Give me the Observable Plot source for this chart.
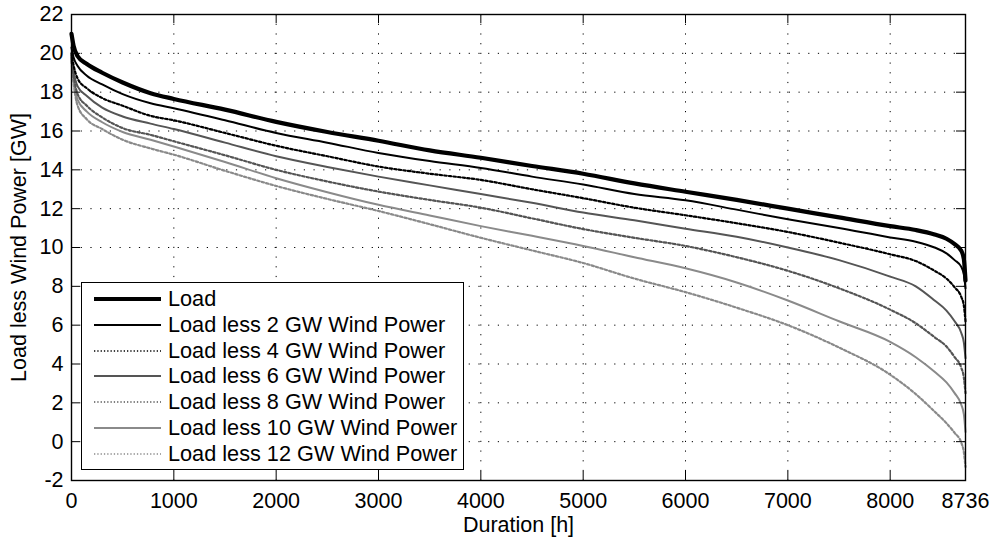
<!DOCTYPE html>
<html><head><meta charset="utf-8">
<script src="https://cdn.jsdelivr.net/npm/d3@7"></script>
<script src="https://cdn.jsdelivr.net/npm/@observablehq/plot@0.6"></script>
<style>
html,body{margin:0;padding:0;background:#fff;}
#wrap{position:relative;width:999px;height:541px;font-family:"Liberation Sans",Arial,Helvetica,sans-serif;}
#legend{position:absolute;left:81px;top:282px;width:383px;height:188px;border:1px solid #000;background:#fff;box-sizing:border-box;font-size:21.7px;color:#000;}
#legend .row{position:absolute;left:0;height:26px;display:flex;align-items:center;white-space:nowrap;}
#legend svg{display:block;}
</style></head><body><div id="wrap"></div>
<script>
// ---- data ----
const hours = [0,20,60,150,300,500,773,1000,1500,2000,2500,3000,3500,4000,4500,5000,5500,6000,6500,7000,7500,8000,8250,8434,8550,8630,8695,8720,8736];
const load   = [21.0,20.4,19.85,19.45,19.0,18.5,17.95,17.65,17.1,16.47,15.95,15.5,15.0,14.62,14.2,13.8,13.3,12.87,12.45,12.0,11.55,11.1,10.9,10.67,10.45,10.17,9.83,9.4,8.3];
const less2  = [20.3,19.8,19.35,18.85,18.4,17.9,17.43,17.17,16.55,15.9,15.4,14.87,14.45,14.1,13.65,13.24,12.75,12.43,11.95,11.45,11.0,10.52,10.3,10.0,9.7,9.35,9.0,8.6,7.9];
const less4  = [20.0,19.4,18.7,18.2,17.7,17.3,16.78,16.55,15.9,15.24,14.7,14.17,13.8,13.48,13.0,12.54,12.05,11.66,11.25,10.8,10.25,9.65,9.3,8.8,8.4,7.95,7.45,7.0,6.2];
const less6  = [19.9,19.1,18.3,17.8,17.2,16.75,16.38,16.1,15.4,14.7,14.15,13.65,13.2,12.75,12.3,11.8,11.4,10.97,10.55,10.0,9.35,8.5,8.0,7.27,6.75,6.2,5.6,5.1,4.3];
const less8  = [19.8,18.9,17.9,17.3,16.7,16.15,15.8,15.47,14.75,14.0,13.4,12.88,12.45,12.05,11.5,10.95,10.5,10.08,9.5,8.8,7.9,6.8,6.1,5.38,4.9,4.35,3.8,3.3,2.5];
const less10 = [19.7,18.7,17.6,17.0,16.45,15.95,15.55,15.2,14.4,13.57,12.85,12.2,11.65,11.1,10.6,10.08,9.5,8.93,8.2,7.27,6.2,5.14,4.35,3.6,3.05,2.5,1.9,1.4,0.5];
const less12 = [19.6,18.5,17.3,16.6,16.1,15.55,15.1,14.78,13.95,13.17,12.5,11.88,11.2,10.5,9.85,9.2,8.4,7.7,6.9,6.0,4.85,3.45,2.45,1.55,0.95,0.45,-0.05,-0.55,-1.3];
const seriesNames = ["Load","Load less 2 GW Wind Power","Load less 4 GW Wind Power","Load less 6 GW Wind Power","Load less 8 GW Wind Power","Load less 10 GW Wind Power","Load less 12 GW Wind Power"];
const seriesValues = [load, less2, less4, less6, less8, less10, less12];
const xTicks = [0,1000,2000,3000,4000,5000,6000,7000,8000,8736];
const yTicks = [-2,0,2,4,6,8,10,12,14,16,18,20,22];
const xLabel = "Duration [h]";
const yLabel = "Load less Wind Power [GW]";

// ---- styles ----
const styles = [
  {stroke:"#000", strokeWidth:4.2, dotted:false},
  {stroke:"#000", strokeWidth:2, dotted:false},
  {stroke:"#000", strokeWidth:2.2, dotted:true},
  {stroke:"#555", strokeWidth:2, dotted:false},
  {stroke:"#555", strokeWidth:2.2, dotted:true},
  {stroke:"#8a8a8a", strokeWidth:2, dotted:false},
  {stroke:"#8a8a8a", strokeWidth:2.2, dotted:true}
];
const lineDots = "2.4,2.2";
const legendDots = "1.3,2";

const W = 999, H = 541, mL = 71, mR = 34, mT = 14, mB = 61;
const plotW = W - mL - mR, plotH = H - mT - mB, tickLen = 9;
const fontFam = '"Liberation Sans", Arial, Helvetica, sans-serif';

const tidy = seriesNames.map((name, i) => hours.map((h, j) => ({series: name, h, v: seriesValues[i][j]})));

const lineMarks = [];
for (let i = seriesNames.length - 1; i >= 0; i--) {
  const s = styles[i];
  const opts = {x: "h", y: "v", stroke: s.stroke, strokeWidth: s.strokeWidth, curve: "monotone-x", strokeLinejoin: "round"};
  if (s.dotted) opts.strokeDasharray = lineDots;
  lineMarks.push(Plot.line(tidy[i], opts));
}

const chart = Plot.plot({
  width: W, height: H,
  marginLeft: mL, marginRight: mR, marginTop: mT, marginBottom: mB,
  style: {fontFamily: fontFam, fontSize: "21.5px", color: "#000", background: "#fff"},
  x: {domain: [0, 8736]},
  y: {domain: [-2, 22]},
  marks: [
    Plot.ruleX(xTicks.slice(1, -1), {x: d => d, stroke: "#000", strokeWidth: 1, strokeDasharray: "1.2,8.5"}),
    Plot.ruleY(yTicks.slice(1, -1), {y: d => d, stroke: "#000", strokeWidth: 1, strokeDasharray: "1.2,8.5"}),
    ...lineMarks,
    Plot.tickX(xTicks, {x: d => d, insetTop: plotH - tickLen, stroke: "#000", strokeWidth: 1}),
    Plot.tickX(xTicks, {x: d => d, insetBottom: plotH - tickLen, stroke: "#000", strokeWidth: 1}),
    Plot.tickY(yTicks, {y: d => d, insetRight: plotW - tickLen, stroke: "#000", strokeWidth: 1}),
    Plot.tickY(yTicks, {y: d => d, insetLeft: plotW - tickLen, stroke: "#000", strokeWidth: 1}),
    Plot.frame({stroke: "#000", strokeWidth: 1.4}),
    Plot.axisX({ticks: xTicks, tickSize: 0, tickPadding: 12, tickFormat: d => String(d), label: null}),
    Plot.axisY({ticks: yTicks, tickSize: 0, tickPadding: 8, tickFormat: d => String(d), label: null}),
    Plot.text([xLabel], {text: d => d, frameAnchor: "bottom", dy: 45, lineAnchor: "middle", textAnchor: "middle", fontSize: 21.5}),
    Plot.text([yLabel], {text: d => d, frameAnchor: "left", dx: -52, rotate: -90, lineAnchor: "middle", textAnchor: "middle", fontSize: 21.5})
  ]
});

const wrap = document.getElementById("wrap");
wrap.appendChild(chart);

// legend overlay
const legend = d3.select(wrap).append("div").attr("id", "legend");
seriesNames.forEach((name, i) => {
  const s = styles[i];
  const row = legend.append("div").attr("class", "row").style("top", (3 + i * 25.8) + "px");
  const svg = row.append("svg").attr("width", 86).attr("height", 26);
  svg.append("line").attr("x1", 12).attr("x2", 79).attr("y1", 13).attr("y2", 13)
    .attr("stroke", s.stroke).attr("stroke-width", s.dotted ? 1.6 : s.strokeWidth)
    .attr("stroke-dasharray", s.dotted ? legendDots : null);
  row.append("span").text(name);
});
</script>
</body></html>
